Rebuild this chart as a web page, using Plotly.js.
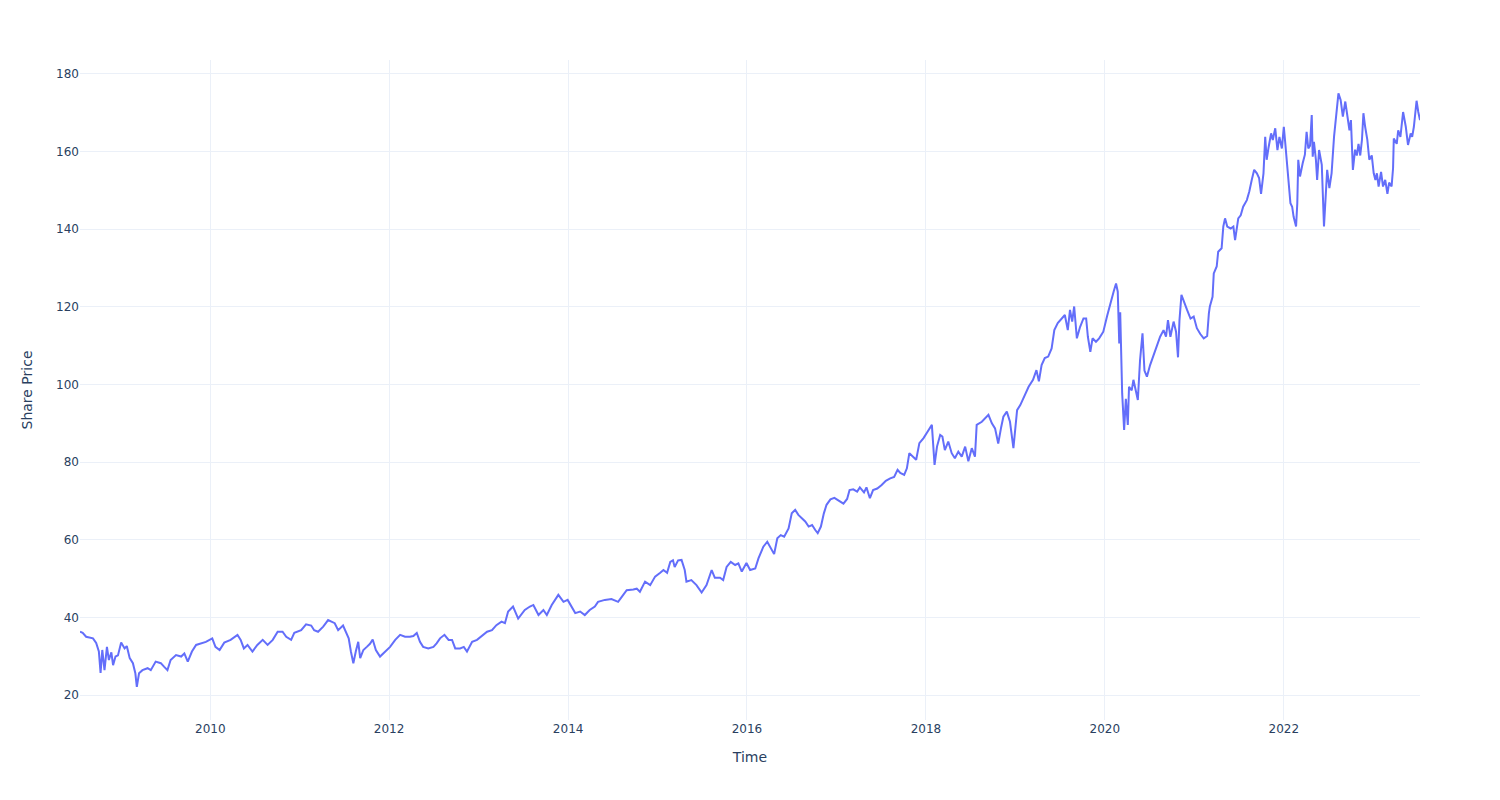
<!DOCTYPE html>
<html>
<head>
<meta charset="utf-8">
<script src="https://cdn.plot.ly/plotly-3.0.1.min.js"></script>
<style>html,body{margin:0;padding:0;background:#fff;}#chart{width:1500px;height:800px;}</style>
</head>
<body>
<div id="chart"></div>
<script>
const dates = [
"2008-07-18","2008-07-29","2008-08-12","2008-09-09","2008-09-22","2008-10-03","2008-10-10","2008-10-17","2008-10-26","2008-11-05",
"2008-11-13","2008-11-23","2008-11-30","2008-12-10","2008-12-20",
"2009-01-02","2009-01-16","2009-01-25","2009-02-06","2009-02-19","2009-03-01","2009-03-07","2009-03-16","2009-03-30","2009-04-20",
"2009-05-03","2009-05-23","2009-06-13","2009-06-26","2009-07-10","2009-07-23","2009-08-14","2009-09-04","2009-09-17","2009-10-01",
"2009-10-18","2009-11-04","2009-11-24","2009-12-14",
"2010-01-09","2010-01-22","2010-02-08","2010-02-27","2010-03-25","2010-04-22","2010-05-05","2010-05-18","2010-06-02","2010-06-22",
"2010-07-12","2010-08-03","2010-08-23","2010-09-13","2010-10-03","2010-10-23","2010-11-07","2010-11-27","2010-12-10",
"2011-01-07","2011-01-27","2011-02-17","2011-03-01","2011-03-17","2011-04-07","2011-04-27","2011-05-24","2011-06-07","2011-06-27",
"2011-07-11","2011-07-20","2011-07-29","2011-08-08","2011-08-18","2011-08-28","2011-09-05","2011-09-18","2011-10-02","2011-10-15",
"2011-10-26","2011-11-08","2011-11-25","2011-12-16",
"2012-01-05","2012-01-26","2012-02-15","2012-03-06","2012-03-26","2012-04-09","2012-04-23","2012-05-06","2012-05-19","2012-06-09",
"2012-06-30","2012-07-13","2012-07-27","2012-08-14","2012-08-31","2012-09-14","2012-09-27","2012-10-17","2012-11-01","2012-11-14",
"2012-12-05","2012-12-25",
"2013-01-14","2013-02-04","2013-02-24","2013-03-14","2013-04-04","2013-04-18","2013-05-01","2013-05-21","2013-06-11","2013-07-08",
"2013-07-29","2013-08-12","2013-09-02","2013-09-22","2013-10-06","2013-10-26","2013-11-22","2013-12-13","2013-12-30",
"2014-01-16","2014-01-30","2014-02-19","2014-03-10","2014-03-30","2014-04-20","2014-05-03","2014-05-31","2014-06-27","2014-07-24",
"2014-08-08","2014-08-28","2014-09-24","2014-10-08","2014-10-21","2014-11-11","2014-12-02","2014-12-22",
"2015-01-12","2015-01-25","2015-02-09","2015-02-22","2015-03-05","2015-03-12","2015-03-26","2015-04-09","2015-04-22","2015-04-29",
"2015-05-19","2015-06-09","2015-06-30","2015-07-20","2015-08-10","2015-08-23","2015-09-13","2015-09-26","2015-10-10","2015-10-27",
"2015-11-14","2015-11-27","2015-12-11","2015-12-30",
"2016-01-14","2016-02-04","2016-02-17","2016-03-08","2016-03-24","2016-04-07","2016-04-21","2016-05-04","2016-05-18","2016-06-01",
"2016-06-19","2016-07-02","2016-07-16","2016-07-29","2016-08-13","2016-08-26","2016-09-09","2016-09-23","2016-10-06","2016-10-16",
"2016-10-29","2016-11-10","2016-11-21","2016-12-07","2016-12-23",
"2017-01-09","2017-01-29","2017-02-13","2017-02-23","2017-03-10","2017-03-26","2017-04-06","2017-04-23","2017-05-03","2017-05-17",
"2017-05-30","2017-06-16","2017-07-04","2017-07-21","2017-08-08","2017-08-24","2017-09-07","2017-09-18","2017-10-04","2017-10-15",
"2017-10-25","2017-11-09","2017-11-22","2017-12-05","2017-12-22",
"2018-01-08","2018-01-25","2018-02-05","2018-02-15","2018-02-28","2018-03-09","2018-03-19","2018-04-02","2018-04-16","2018-04-29",
"2018-05-13","2018-05-27","2018-06-10","2018-06-23","2018-07-07","2018-07-20","2018-07-27","2018-08-17","2018-09-13","2018-09-27",
"2018-10-10","2018-10-23","2018-11-04","2018-11-13","2018-11-27","2018-12-10","2018-12-24",
"2019-01-08","2019-01-21","2019-02-11","2019-02-24","2019-03-14","2019-03-28","2019-04-07","2019-04-18","2019-05-01","2019-05-15",
"2019-05-29","2019-06-09","2019-06-23","2019-07-09","2019-07-22","2019-08-03","2019-08-12","2019-08-21","2019-08-29","2019-09-09",
"2019-09-22","2019-10-06","2019-10-17","2019-10-24","2019-11-03","2019-11-12","2019-11-26","2019-12-09","2019-12-26",
"2020-01-10","2020-01-23","2020-02-06","2020-02-16","2020-02-23","2020-02-29","2020-03-04","2020-03-12","2020-03-20","2020-03-27",
"2020-04-04","2020-04-09","2020-04-20","2020-04-27","2020-05-07","2020-05-15","2020-05-24","2020-06-03","2020-06-11","2020-06-21",
"2020-07-04","2020-07-18","2020-08-01","2020-08-14","2020-08-28","2020-09-07","2020-09-15","2020-09-25","2020-10-08","2020-10-18",
"2020-10-26","2020-11-01","2020-11-09","2020-11-18","2020-12-02","2020-12-16","2020-12-29",
"2021-01-11","2021-01-25","2021-02-08","2021-02-22","2021-03-01","2021-03-05","2021-03-16","2021-03-21","2021-04-02","2021-04-08",
"2021-04-22","2021-04-29","2021-05-06","2021-05-15","2021-05-29","2021-06-09","2021-06-16","2021-06-29","2021-07-09","2021-07-19",
"2021-08-03","2021-08-13","2021-08-23","2021-09-02","2021-09-13","2021-09-22","2021-09-30","2021-10-10","2021-10-17","2021-10-23",
"2021-10-30","2021-11-10","2021-11-17","2021-11-27","2021-12-06","2021-12-14","2021-12-24",
"2022-01-01","2022-01-07","2022-01-14","2022-01-21","2022-01-28","2022-02-04","2022-02-10","2022-02-20","2022-02-25","2022-03-01",
"2022-03-08","2022-03-19","2022-03-28","2022-04-04","2022-04-11","2022-04-18","2022-04-25","2022-04-29","2022-05-04","2022-05-12",
"2022-05-17","2022-05-25","2022-06-05","2022-06-14","2022-06-22","2022-06-27","2022-07-06","2022-07-15","2022-07-25","2022-08-02",
"2022-08-12","2022-08-21","2022-08-30","2022-09-09","2022-09-16","2022-09-26","2022-10-02","2022-10-10","2022-10-19","2022-10-26",
"2022-11-02","2022-11-09","2022-11-16","2022-11-22","2022-11-29","2022-12-08","2022-12-16","2022-12-26",
"2023-01-03","2023-01-10","2023-01-16","2023-01-23","2023-02-02","2023-02-10","2023-02-19","2023-02-28","2023-03-07","2023-03-17",
"2023-03-23","2023-03-26","2023-04-07","2023-04-13","2023-04-22","2023-05-03","2023-05-14","2023-05-23","2023-06-03","2023-06-09",
"2023-06-16","2023-06-27","2023-07-04","2023-07-11"
];
const prices = [
36.3,36.0,35.0,34.6,33.4,31.2,25.7,31.6,26.4,32.4,
29.0,31.0,27.7,29.9,30.2,
33.5,32.0,32.6,29.5,28.2,25.6,22.1,25.6,26.4,26.9,
26.4,28.6,28.2,27.3,26.4,29.0,30.3,29.9,30.7,28.6,
31.2,32.9,33.3,33.7,
34.6,32.4,31.6,33.5,34.2,35.5,34.2,32.0,32.9,31.2,
32.9,34.2,32.9,34.2,36.3,36.3,35.0,34.2,36.0,
36.7,38.2,37.9,36.7,36.3,37.6,39.3,38.5,36.7,37.9,
36.0,34.6,31.2,28.2,31.2,33.7,29.5,31.6,32.4,33.2,
34.3,31.6,29.9,31.2,
32.4,34.2,35.5,35.0,35.0,35.2,36.0,33.7,32.4,32.0,
32.4,33.3,34.6,35.5,34.2,34.2,32.0,32.0,32.4,31.2,
33.7,34.2,
35.2,36.3,36.7,38.0,38.9,38.5,41.5,42.8,39.7,41.9,
42.8,43.2,40.6,41.9,40.6,43.2,45.8,44.0,44.5,
42.8,41.1,41.5,40.6,41.9,42.8,44.0,44.5,44.7,44.0,
45.3,47.0,47.2,47.4,46.6,49.2,48.3,50.5,
51.5,52.2,51.5,54.3,54.7,53.0,54.7,54.8,52.2,49.2,
49.6,48.3,46.4,48.3,52.2,50.2,50.2,49.6,53.0,54.3,
53.5,53.9,51.8,54.0,
52.2,52.6,55.2,58.2,59.5,57.8,56.3,60.4,61.2,60.8,
62.9,66.8,67.7,66.4,65.5,64.7,63.4,63.8,62.5,61.7,
63.4,66.8,69.0,70.4,70.8,
70.1,69.3,70.5,72.8,73.0,72.4,73.5,72.2,73.5,70.7,
72.8,73.2,74.1,75.2,75.8,76.2,78.0,77.2,76.7,78.4,
82.3,81.4,80.6,84.9,86.2,
87.9,89.6,79.3,84.0,87.0,86.6,83.1,85.3,82.3,81.0,
82.7,81.4,84.0,80.2,83.6,81.4,89.6,90.4,92.2,90.0,
88.7,84.8,89.0,91.7,93.0,90.4,83.6,
93.4,94.7,97.7,99.4,101.2,103.7,100.8,105.0,106.8,107.2,
109.3,114.0,115.8,117.0,117.9,114.0,119.2,116.2,120.1,111.9,
114.8,117.0,117.0,112.3,108.4,111.9,111.0,111.9,113.6,
117.5,120.9,123.9,126.0,123.9,110.6,118.6,97.7,88.3,96.3,
89.6,99.4,98.5,101.2,98.1,96.0,106.3,113.2,103.6,102.0,
105.0,107.6,110.2,112.3,114.0,112.3,116.6,112.3,116.2,113.6,
107.0,116.6,123.1,121.4,119.2,117.0,117.5,
114.5,113.0,111.9,112.5,118.3,120.1,122.6,128.6,130.4,134.2,
135.1,140.7,142.8,140.7,140.2,140.7,137.2,142.8,143.6,145.8,
147.5,149.7,152.7,155.3,154.4,153.2,149.1,154.4,163.8,157.9,
160.8,164.7,163.0,166.0,160.4,163.8,160.8,
166.4,162.1,157.0,151.0,146.7,145.8,143.2,140.7,146.7,157.9,
153.6,157.0,159.2,165.1,160.8,161.5,169.4,158.7,162.5,157.9,
152.7,160.4,156.6,140.7,150.1,155.3,150.6,154.4,163.8,169.4,
175.0,173.3,169.0,172.9,169.8,165.5,168.1,155.3,160.5,159.0,
162.0,159.0,163.0,169.9,166.4,163.0,157.9,159.0,
154.4,152.7,154.4,151.0,154.8,151.0,152.7,149.1,152.0,151.0,
155.7,163.4,162.0,165.5,163.8,170.2,166.4,161.7,164.7,163.8,
166.4,173.1,170.2,168.1
];

const xTitle = "Time";
const yTitle = "Share Price";

const trace = {
  x: dates,
  y: prices,
  type: "scatter",
  mode: "lines",
  line: {color: "#636efa", width: 2},
  showlegend: false
};

const layout = {
  width: 1500,
  height: 800,
  paper_bgcolor: "#ffffff",
  plot_bgcolor: "#ffffff",
  font: {family: "DejaVu Sans, sans-serif", size: 12, color: "#2a3f5f"},
  margin: {l: 80, r: 80, t: 60, b: 80},
  xaxis: {
    title: {text: xTitle, font: {size: 14}, standoff: 17},
    type: "date",
    range: ["2008-07-18", "2023-07-11"],
    gridcolor: "#EBF0F8",
    zerolinecolor: "#EBF0F8",
    showline: false,
    ticks: ""
  },
  yaxis: {
    title: {text: yTitle, font: {size: 14}, standoff: 20},
    range: [13.56, 183.6],
    gridcolor: "#EBF0F8",
    zerolinecolor: "#EBF0F8",
    showline: false,
    ticks: "",
    dtick: 20
  },
  hovermode: "closest"
};

Plotly.newPlot("chart", [trace], layout, {displayModeBar: false, staticPlot: true});
</script>
</body>
</html>
